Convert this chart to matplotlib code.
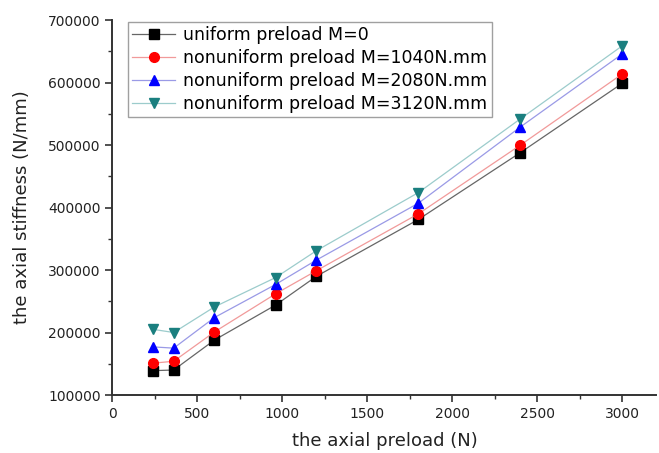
import numpy as np
import matplotlib
matplotlib.use("Agg")
import matplotlib.pyplot as plt
from matplotlib.ticker import MultipleLocator

# values
preload = [240, 360, 600, 960, 1200, 1800, 2400, 3000]
stiff_m0 = [139000, 140000, 188000, 244000, 290000, 381000, 488000, 599000]
stiff_m1040 = [151000, 154000, 201000, 262000, 299000, 390000, 500000, 614000]
stiff_m2080 = [177000, 175000, 224000, 277000, 316000, 407000, 529000, 646000]
stiff_m3120 = [205000, 200000, 241000, 288000, 331000, 424000, 542000, 659000]

labels = ["uniform preload M=0",
          "nonuniform preload M=1040N.mm",
          "nonuniform preload M=2080N.mm",
          "nonuniform preload M=3120N.mm"]

# (line colour, marker colour, marker)
styles = [("#666666", "#000000", "s"),
          ("#f19a9a", "#ff0000", "o"),
          ("#9a9ae6", "#0000ff", "^"),
          ("#9ccccc", "#1a7f7f", "v")]

fig = plt.figure(figsize=(6.59, 4.53), dpi=100)
ax = fig.add_axes([0.1707, 0.128, 0.8255, 0.8278])

for ys, lab, (lc, mc, mk) in zip([stiff_m0, stiff_m1040, stiff_m2080, stiff_m3120], labels, styles):
    ax.plot(preload, ys, color=lc, lw=0.9, marker=mk, ms=7,
            mfc=mc, mec=mc, label=lab)

ax.set_xlim(0, 3200)
ax.set_ylim(100000, 700000)
ax.xaxis.set_major_locator(MultipleLocator(500))
ax.xaxis.set_minor_locator(MultipleLocator(250))
ax.yaxis.set_major_locator(MultipleLocator(100000))
ax.yaxis.set_minor_locator(MultipleLocator(50000))

for s in ["top", "right"]:
    ax.spines[s].set_visible(False)
for s in ["left", "bottom"]:
    ax.spines[s].set_linewidth(1.4)
    ax.spines[s].set_color("#333333")

ax.tick_params(which="major", direction="out", length=5, width=1.2, labelsize=10, colors="#333333")
ax.tick_params(which="minor", direction="out", length=3, width=1.0, colors="#333333")
ax.tick_params(labelcolor="#222222")

ax.set_xlabel("the axial preload (N)", fontsize=13, color="#222222", labelpad=8)
ax.set_ylabel("the axial stiffness (N/mm)", fontsize=13, color="#222222", labelpad=12)

leg = ax.legend(loc="upper left", bbox_to_anchor=(0.028, 0.995), fontsize=12.5,
                frameon=True, fancybox=False, edgecolor="#888888",
                handlelength=2.5, handletextpad=0.45, labelspacing=0.28,
                borderpad=0.25, borderaxespad=0)
leg.get_frame().set_linewidth(1.0)

fig.savefig("out.png", dpi=100)
